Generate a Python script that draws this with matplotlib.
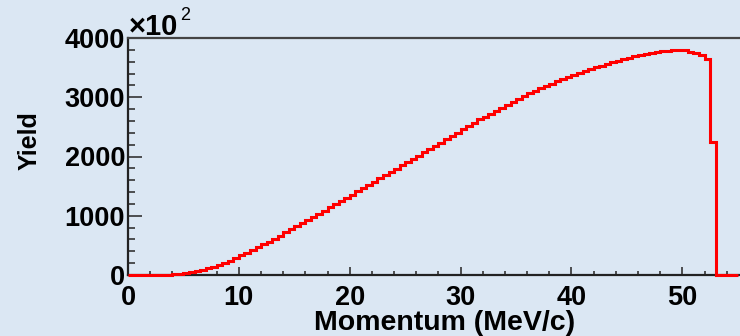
import numpy as np
import matplotlib
matplotlib.use("Agg")
import matplotlib.pyplot as plt
from matplotlib.ticker import MultipleLocator

# histogram: 0.5 MeV/c bins from 0 to 55, yield in units of 10^2
bin_edges = np.arange(0, 55.5, 0.5)
yield_100 = [
    0, 0, 0, 0, 1, 2, 4, 6, 10, 18,
    30, 45, 65, 85, 110, 135, 165, 200, 240, 280,
    330, 375, 420, 465, 515, 565, 615, 665, 720, 770,
    825, 875, 930, 980, 1035, 1085, 1140, 1195, 1245, 1300,
    1355, 1410, 1465, 1520, 1575, 1630, 1685, 1740, 1795, 1850,
    1905, 1960, 2015, 2070, 2125, 2180, 2235, 2290, 2345, 2400,
    2460, 2515, 2570, 2625, 2675, 2725, 2775, 2825, 2875, 2925,
    2975, 3020, 3065, 3110, 3150, 3190, 3230, 3270, 3310, 3345,
    3380, 3415, 3445, 3475, 3505, 3535, 3565, 3595, 3620, 3645,
    3670, 3695, 3715, 3735, 3750, 3765, 3775, 3785, 3790, 3798,
    3798, 3770, 3755, 3715, 3650, 2250, 0, 0, 0, 0,
]
x_ticks = [0, 10, 20, 30, 40, 50]
y_ticks = [0, 1000, 2000, 3000, 4000]

bg = "#dbe7f3"
font = "Liberation Sans"

fig = plt.figure(figsize=(7.4, 3.36), dpi=100, facecolor=bg)
ax = fig.add_axes([128 / 740, 61 / 336, 612 / 740, 237 / 336], facecolor=bg)

ax.stairs(yield_100, bin_edges, baseline=0, color="#ff0000", linewidth=2.2,
          zorder=5, clip_on=False)

ax.set_xlim(0, 55.2)
ax.set_ylim(0, 4000)
ax.set_xticks(x_ticks)
ax.set_yticks(y_ticks)
ax.xaxis.set_minor_locator(MultipleLocator(2))
ax.yaxis.set_minor_locator(MultipleLocator(200))
ax.tick_params(axis="x", which="major", direction="in", length=6, width=1.2, color="#333333", pad=7.2)
ax.tick_params(axis="x", which="minor", direction="in", length=3, width=1.2, color="#333333")
ax.tick_params(axis="y", which="major", direction="in", length=10, width=1.2, color="#333333", pad=2)
ax.tick_params(axis="y", which="minor", direction="in", length=5, width=1.2, color="#333333")
for lbl in ax.get_xticklabels() + ax.get_yticklabels():
    lbl.set_fontfamily(font)
    lbl.set_fontweight("bold")
    lbl.set_fontsize(19.5)

for side in ["left", "bottom"]:
    ax.spines[side].set_color("#222222")
    ax.spines[side].set_linewidth(1.6)
ax.spines["top"].set_color("#444444")
ax.spines["top"].set_linewidth(1.6)
ax.spines["right"].set_visible(False)

fig.text(575 / 740, 0, "Momentum (MeV/c)", ha="right", va="bottom",
         fontfamily=font, fontweight="bold", fontsize=20.5)
fig.text(30 / 740, 1 - 141 / 336, "Yield", rotation=90, ha="center", va="center",
         fontfamily=font, fontweight="bold", fontsize=18)
fig.text(129 / 740, 1 - 35 / 336, "\u00d710", ha="left", va="baseline",
         fontfamily=font, fontweight="bold", fontsize=21)
fig.text(180 / 740, 1 - 20 / 336, "2", ha="left", va="baseline",
         fontfamily=font, fontsize=13)

fig.savefig("out.png", dpi=100, facecolor=bg)
